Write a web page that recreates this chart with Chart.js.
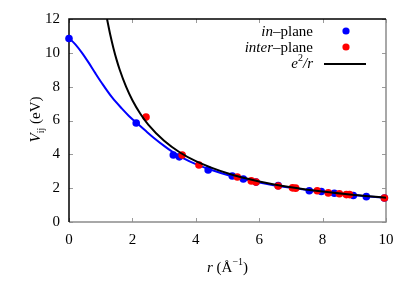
<!DOCTYPE html>
<html><head><meta charset="utf-8">
<script src="https://cdn.jsdelivr.net/npm/chart.js@4"></script>
<style>html,body{margin:0;padding:0;background:#fff}#wrap{width:415px;height:291px}</style>
</head><body><div id="wrap"><canvas id="c" width="415" height="291"></canvas></div>
<script>
const inPlaneR = [0, 2.12, 3.29, 3.48, 4.39, 5.15, 5.5, 5.9, 6.6, 7.58, 7.96, 8.37, 8.97, 9.38, 9.95];
const inPlaneV = [10.85, 5.85, 3.96, 3.85, 3.08, 2.72, 2.54, 2.36, 2.15, 1.85, 1.8, 1.7, 1.57, 1.5, 1.42];
const interR = [2.43, 3.57, 4.1, 5.31, 5.75, 5.9, 6.6, 7.05, 7.15, 7.83, 8.18, 8.53, 8.75, 8.85, 9.95];
const interV = [6.2, 3.96, 3.37, 2.66, 2.43, 2.36, 2.13, 2.02, 2.0, 1.85, 1.72, 1.67, 1.62, 1.62, 1.42];
const fitR = [0, 0.2, 0.41, 0.62, 0.83, 1.04, 1.36, 1.67, 1.89, 2.12, 2.4, 2.66, 3, 3.3, 3.6, 4, 4.5, 5, 6, 7, 8, 9, 10];
const fitV = [10.87, 10.5, 10.0, 9.42, 8.8, 8.2, 7.36, 6.7, 6.27, 5.88, 5.42, 5.0, 4.5, 4.1, 3.78, 3.42, 3.07, 2.78, 2.34, 2.02, 1.78, 1.58, 1.43];
const coulR = [1.2, 1.3, 1.4, 1.5, 1.6, 1.8, 2.0, 2.25, 2.5, 3, 3.5, 4, 5, 6, 7, 8, 9, 10];
const coulV = [12.0, 11.08, 10.29, 9.6, 9.0, 8.0, 7.2, 6.4, 5.76, 4.8, 4.11, 3.6, 2.88, 2.4, 2.06, 1.8, 1.6, 1.44];
const xTicks = [0, 2, 4, 6, 8, 10];
const yTicks = [0, 2, 4, 6, 8, 10, 12];

const pts = (xs, ys) => xs.map((x, i) => ({x, y: ys[i]}));
const FONT = "'Liberation Serif', 'DejaVu Serif', serif";
const BLUE = '#0000ff', RED = '#ff0000';

const framePlugin = {
  id: 'frame',
  beforeDatasetsDraw(chart) {
    const {ctx, chartArea: a, scales: {x, y}} = chart;
    ctx.save();
    ctx.lineWidth = 1;
    ctx.strokeStyle = '#9a9a9a';
    const tl = 4;
    xTicks.forEach(v => {
      const px = Math.round(x.getPixelForValue(v)) + 0.5;
      ctx.beginPath(); ctx.moveTo(px, a.bottom); ctx.lineTo(px, a.bottom - tl);
      ctx.moveTo(px, a.top); ctx.lineTo(px, a.top + tl); ctx.stroke();
    });
    yTicks.forEach(v => {
      const py = Math.round(y.getPixelForValue(v)) + 0.5;
      ctx.beginPath(); ctx.moveTo(a.left, py); ctx.lineTo(a.left + tl, py);
      ctx.moveTo(a.right, py); ctx.lineTo(a.right - tl, py); ctx.stroke();
    });
    ctx.lineWidth = 1.5;
    ctx.strokeStyle = '#8c8c8c';
    ctx.beginPath(); ctx.moveTo(a.left, a.bottom); ctx.lineTo(a.right, a.bottom); ctx.lineTo(a.right, a.top); ctx.stroke();
    ctx.strokeStyle = '#000';
    ctx.beginPath(); ctx.moveTo(a.left, a.bottom); ctx.lineTo(a.left, a.top); ctx.lineTo(a.right, a.top); ctx.stroke();
    ctx.restore();
  },
  afterDraw(chart) {
    const {ctx, chartArea: a} = chart;
    ctx.save();
    ctx.fillStyle = '#000';
    ctx.textBaseline = 'alphabetic';
    const it = 'italic 15px ' + FONT, up = '15px ' + FONT, sm = '10px ' + FONT;
    function runs(parts, xr, yb) {
      let w = 0;
      parts.forEach(p => { ctx.font = p[1]; w += ctx.measureText(p[0]).width; });
      let xx = xr - w;
      parts.forEach(p => { ctx.font = p[1]; ctx.fillText(p[0], xx, yb + (p[2] || 0)); xx += ctx.measureText(p[0]).width; });
    }
    const xr = 313;
    runs([['in', it], ['\u2013plane', up]], xr, 36);
    runs([['inter', it], ['\u2013plane', up]], xr, 52);
    runs([['e', it], ['2', sm, -7], ['/r', it]], xr, 68);
    ctx.fillStyle = BLUE; ctx.beginPath(); ctx.arc(346, 31, 3.6, 0, 2 * Math.PI); ctx.fill();
    ctx.fillStyle = RED; ctx.beginPath(); ctx.arc(346, 47, 3.6, 0, 2 * Math.PI); ctx.fill();
    ctx.strokeStyle = '#000'; ctx.lineWidth = 2;
    ctx.beginPath(); ctx.moveTo(324, 64); ctx.lineTo(366, 64); ctx.stroke();
    ctx.fillStyle = '#000';
    const cx = (a.left + a.right) / 2;
    {
      const parts = [['r', it], [' (\u00C5', up], ['\u22121', sm, -7], [')', up]];
      let w = 0; parts.forEach(p => { ctx.font = p[1]; w += ctx.measureText(p[0]).width; });
      runs(parts, cx + w / 2, 272);
    }
    ctx.save();
    ctx.translate(40, (a.top + a.bottom) / 2 - 1);
    ctx.rotate(-Math.PI / 2);
    {
      const parts = [['V', it], ['ij', sm, 4], [' (eV)', up]];
      let w = 0; parts.forEach(p => { ctx.font = p[1]; w += ctx.measureText(p[0]).width; });
      runs(parts, w / 2, 0);
    }
    ctx.restore();
    ctx.restore();
  }
};

new Chart(document.getElementById('c'), {
  type: 'scatter',
  data: {
    datasets: [
      { label: 'fit', data: pts(fitR, fitV), showLine: true, borderColor: BLUE, borderWidth: 2,
        pointRadius: 0, cubicInterpolationMode: 'monotone', order: 4 },
      { label: 'in-plane', data: pts(inPlaneR, inPlaneV), backgroundColor: BLUE, borderWidth: 0,
        pointRadius: 3.8, clip: false, order: 3 },
      { label: 'inter-plane', data: pts(interR, interV), backgroundColor: RED, borderWidth: 0,
        pointRadius: 3.8, clip: false, order: 2 },
      { label: 'e2/r', data: pts(coulR, coulV), showLine: true, borderColor: '#000', borderWidth: 2,
        pointRadius: 0, cubicInterpolationMode: 'monotone', order: 1 }
    ]
  },
  options: {
    responsive: false, animation: false,
    layout: { padding: { top: 19, right: 29, left: 0, bottom: 0 } },
    plugins: { legend: { display: false }, tooltip: { enabled: false } },
    scales: {
      x: { type: 'linear', min: 0, max: 10,
        afterFit: s => { s.height = 69; },
        afterBuildTicks: s => { s.ticks = xTicks.map(v => ({value: v})); },
        grid: { display: false, drawTicks: false }, border: { display: false },
        ticks: { padding: 9, color: '#000', font: { family: FONT, size: 15 }, maxRotation: 0 } },
      y: { type: 'linear', min: 0, max: 12,
        afterFit: s => { s.width = 69; },
        afterBuildTicks: s => { s.ticks = yTicks.map(v => ({value: v})); },
        grid: { display: false, drawTicks: false }, border: { display: false },
        ticks: { padding: 9, color: '#000', font: { family: FONT, size: 15 } } }
    }
  },
  plugins: [framePlugin]
});
</script></body></html>
